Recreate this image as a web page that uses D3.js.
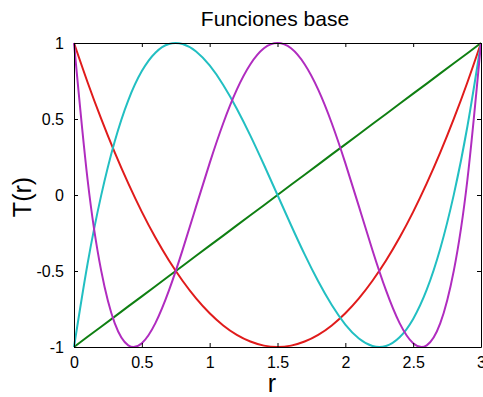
<!DOCTYPE html>
<html>
<head>
<meta charset="utf-8">
<script src="https://cdn.jsdelivr.net/npm/d3@7"></script>
<style>
  body { margin: 0; background: #fff; }
  text { font-family: "Liberation Sans", Arial, sans-serif; fill: #000; }
</style>
</head>
<body>
<div id="the_chart"></div>
<script>
// sample points
var rValues = [0,0.1,0.2,0.3,0.4,0.5,0.6,0.7,0.8,0.9,1,1.1,1.2,1.3,1.4,1.5,1.6,1.7,1.8,1.9,2,2.1,2.2,2.3,2.4,2.5,2.6,2.7,2.8,2.9,3];
var greenValues = [-1,-0.933,-0.867,-0.8,-0.733,-0.667,-0.6,-0.533,-0.467,-0.4,-0.333,-0.267,-0.2,-0.133,-0.067,0,0.067,0.133,0.2,0.267,0.333,0.4,0.467,0.533,0.6,0.667,0.733,0.8,0.867,0.933,1];
var redValues = [1,0.742,0.502,0.28,0.076,-0.111,-0.28,-0.431,-0.564,-0.68,-0.778,-0.858,-0.92,-0.964,-0.991,-1,-0.991,-0.964,-0.92,-0.858,-0.778,-0.68,-0.564,-0.431,-0.28,-0.111,0.076,0.28,0.502,0.742,1];
var cyanValues = [-1,-0.452,-0.004,0.352,0.623,0.815,0.936,0.993,0.993,0.944,0.852,0.724,0.568,0.391,0.199,0,-0.199,-0.391,-0.568,-0.724,-0.852,-0.944,-0.993,-0.993,-0.936,-0.815,-0.623,-0.352,0.004,0.452,1];
var magentaValues = [1,0.102,-0.496,-0.843,-0.989,-0.975,-0.843,-0.628,-0.363,-0.075,0.21,0.472,0.693,0.86,0.965,1,0.965,0.86,0.693,0.472,0.21,-0.075,-0.363,-0.628,-0.843,-0.975,-0.989,-0.843,-0.496,0.102,1];
var xTicks = [0,0.5,1,1.5,2,2.5,3];
var yTicks = [-1,-0.5,0,0.5,1];

var w = 483, h = 397;
var mLeft = 74, mRight = 481, mTop = 43, mBottom = 347;

var svg = d3.select("#the_chart")
            .append("svg")
            .attr("width", w)
            .attr("height", h);

var xscale = d3.scaleLinear().domain([0,3]).range([mLeft,mRight]);
var yscale = d3.scaleLinear().domain([-1,1]).range([mBottom,mTop]);

var series = [
  {vals: greenValues, color: "#0f7f12"},
  {vals: redValues, color: "#e01b1b"},
  {vals: cyanValues, color: "#22bfc2"},
  {vals: magentaValues, color: "#b02cbf"}
];

var line = d3.line()
  .x(function(d){ return xscale(d[0]); })
  .y(function(d){ return yscale(d[1]); })
  .curve(d3.curveNatural);

svg.append("g").attr("id","lines")
  .selectAll("path")
  .data(series)
  .enter()
  .append("path")
  .attr("d", function(s){ return line(rValues.map(function(r,i){ return [r, s.vals[i]]; })); })
  .attr("fill","none")
  .attr("stroke", function(s){ return s.color; })
  .attr("stroke-width", 2);

// axes, ticks inside like matlab, mirrored on top/right
var fmt = function(d){ return String(d); };
var xAxis = d3.axisBottom(xscale).tickValues(xTicks).tickSizeInner(-4).tickSizeOuter(0).tickPadding(10).tickFormat(fmt);
var xTop = d3.axisTop(xscale).tickValues(xTicks).tickSizeInner(-4).tickSizeOuter(0).tickFormat("");
var yAxis = d3.axisLeft(yscale).tickValues(yTicks).tickSizeInner(-4).tickSizeOuter(0).tickPadding(10).tickFormat(fmt);
var yRight = d3.axisRight(yscale).tickValues(yTicks).tickSizeInner(-4).tickSizeOuter(0).tickFormat("");

svg.append("g").attr("transform","translate(0,"+mBottom+")").call(xAxis);
svg.append("g").attr("transform","translate(0,"+mTop+")").call(xTop);
svg.append("g").attr("transform","translate("+mLeft+",0)").call(yAxis);
svg.append("g").attr("transform","translate("+mRight+",0)").call(yRight);

svg.selectAll(".domain").attr("stroke","#000").attr("stroke-width",1);
svg.selectAll(".tick line").attr("stroke","#000");
svg.selectAll(".tick text").style("font-size","16px").style("font-family","Liberation Sans, Arial, sans-serif");

svg.append("text")
  .attr("x", 275).attr("y", 26)
  .attr("text-anchor","middle")
  .style("font-size","21px")
  .text("Funciones base");

svg.append("text")
  .attr("x", 272).attr("y", 392)
  .attr("text-anchor","middle")
  .style("font-size","25px")
  .text("r");

svg.append("text")
  .attr("transform","translate(31,197) rotate(-90)")
  .attr("text-anchor","middle")
  .style("font-size","25px")
  .text("T(r)");
</script>
</body>
</html>
